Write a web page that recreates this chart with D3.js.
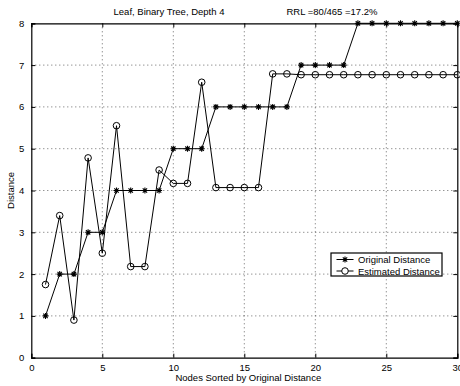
<!DOCTYPE html>
<html><head><meta charset="utf-8">
<script src="https://cdn.jsdelivr.net/npm/d3@7"></script>
<style>body{margin:0;background:#fff}svg{display:block}text{font-family:"Liberation Sans",Arial,sans-serif;fill:#000}</style>
</head><body><svg id="c" width="460" height="386"></svg>
<script>
const nodes = d3.range(1, 31);
const original = [1,2,2,3,3,4,4,4,4,5,5,5,6,6,6,6,6,6,7,7,7,7,8,8,8,8,8,8,8,8];
const estimated = [1.75,3.4,0.9,4.78,2.5,5.55,2.18,2.18,4.49,4.17,4.17,6.59,4.07,4.07,4.07,4.07,6.79,6.79,6.77,6.77,6.77,6.77,6.77,6.77,6.77,6.77,6.77,6.77,6.77,6.77];
const xTicks = [0,5,10,15,20,25,30];
const yTicks = [0,1,2,3,4,5,6,7,8];
const seriesNames = ["Original Distance","Estimated Distance"];
const title1 = "Leaf, Binary Tree, Depth 4";
const title2 = "RRL =80/465 =17.2%";

const svg = d3.select("#c");
const L=31.3, R=457.3, T=23.3, B=357.7;
const x = d3.scaleLinear().domain([0,30]).range([L,R]);
const y = d3.scaleLinear().domain([0,8]).range([B,T]);
const fs = 9.5;

// grid
const g = svg.append("g");
g.selectAll(".gx").data(xTicks.slice(1,-1)).join("line")
 .attr("x1",d=>x(d)).attr("x2",d=>x(d)).attr("y1",T).attr("y2",B)
 .attr("stroke","#000").attr("stroke-width",0.6).attr("stroke-dasharray","1,3");
g.selectAll(".gy").data(yTicks.slice(1,-1)).join("line")
 .attr("y1",d=>y(d)).attr("y2",d=>y(d)).attr("x1",L).attr("x2",R)
 .attr("stroke","#000").attr("stroke-width",0.6).attr("stroke-dasharray","1,3");

// axes
const ax = svg.append("g").attr("transform",`translate(0,${B})`)
 .call(d3.axisBottom(x).tickValues(xTicks).tickSize(-4).tickPadding(7).tickFormat(d3.format("d")));
const ay = svg.append("g").attr("transform",`translate(${L},0)`)
 .call(d3.axisLeft(y).tickValues(yTicks).tickSize(-4).tickPadding(7).tickFormat(d3.format("d")));
const ax2 = svg.append("g").attr("transform",`translate(0,${T})`)
 .call(d3.axisTop(x).tickValues(xTicks).tickSize(-4).tickFormat(""));
const ay2 = svg.append("g").attr("transform",`translate(${R},0)`)
 .call(d3.axisRight(y).tickValues(yTicks).tickSize(-4).tickFormat(""));
[ax,ay,ax2,ay2].forEach(a=>{
  a.select(".domain").attr("stroke","#000").attr("stroke-width",1.2);
  a.selectAll(".tick line").attr("stroke","#000").attr("stroke-width",1);
  a.selectAll("text").attr("font-size",fs).attr("font-family",'"Liberation Sans",Arial,sans-serif');
});
ax.selectAll("text").attr("dy","0.71em");

const line = d3.line().x((d,i)=>x(nodes[i])).y(d=>y(d));
svg.append("path").datum(original).attr("d",line).attr("fill","none").attr("stroke","#000").attr("stroke-width",1);
svg.append("path").datum(estimated).attr("d",line).attr("fill","none").attr("stroke","#000").attr("stroke-width",1);

function star(sel, cx, cy){
  const s=3, t=2.2;
  const p=`M${cx-s},${cy}L${cx+s},${cy}M${cx},${cy-s}L${cx},${cy+s}M${cx-t},${cy-t}L${cx+t},${cy+t}M${cx-t},${cy+t}L${cx+t},${cy-t}`;
  sel.append("path").attr("d",p).attr("stroke","#000").attr("stroke-width",1.1);
}
const ms = svg.append("g");
original.forEach((v,i)=>star(ms, x(nodes[i]), y(v)));
svg.append("g").selectAll("circle").data(estimated).join("circle")
 .attr("cx",(d,i)=>x(nodes[i])).attr("cy",d=>y(d)).attr("r",3.3)
 .attr("fill","none").attr("stroke","#000").attr("stroke-width",1);

// titles
svg.append("text").attr("x",169).attr("y",15).attr("text-anchor","middle").attr("font-size",fs).text(title1);
svg.append("text").attr("x",332).attr("y",15).attr("text-anchor","middle").attr("font-size",fs).text(title2);
svg.append("text").attr("x",(L+R)/2+4).attr("y",381).attr("text-anchor","middle").attr("font-size",fs).text("Nodes Sorted by Original Distance");
svg.append("text").attr("transform",`translate(14,${(T+B)/2}) rotate(-90)`).attr("text-anchor","middle").attr("font-size",fs).text("Distance");

// legend
const lg = svg.append("g");
lg.append("rect").attr("x",331).attr("y",253).attr("width",111).attr("height",23).attr("fill","#fff").attr("stroke","#000").attr("stroke-width",1.2);
const rows=[259.5,271];
rows.forEach((ry,k)=>{
  lg.append("line").attr("x1",336.5).attr("x2",353.5).attr("y1",ry).attr("y2",ry).attr("stroke","#000").attr("stroke-width",1);
  if(k===0) star(lg,345,ry); else lg.append("circle").attr("cx",345).attr("cy",ry).attr("r",3.3).attr("fill","#fff").attr("stroke","#000");
  lg.append("text").attr("x",358).attr("y",ry+3.5).attr("font-size",fs).text(seriesNames[k]);
});
</script></body></html>
